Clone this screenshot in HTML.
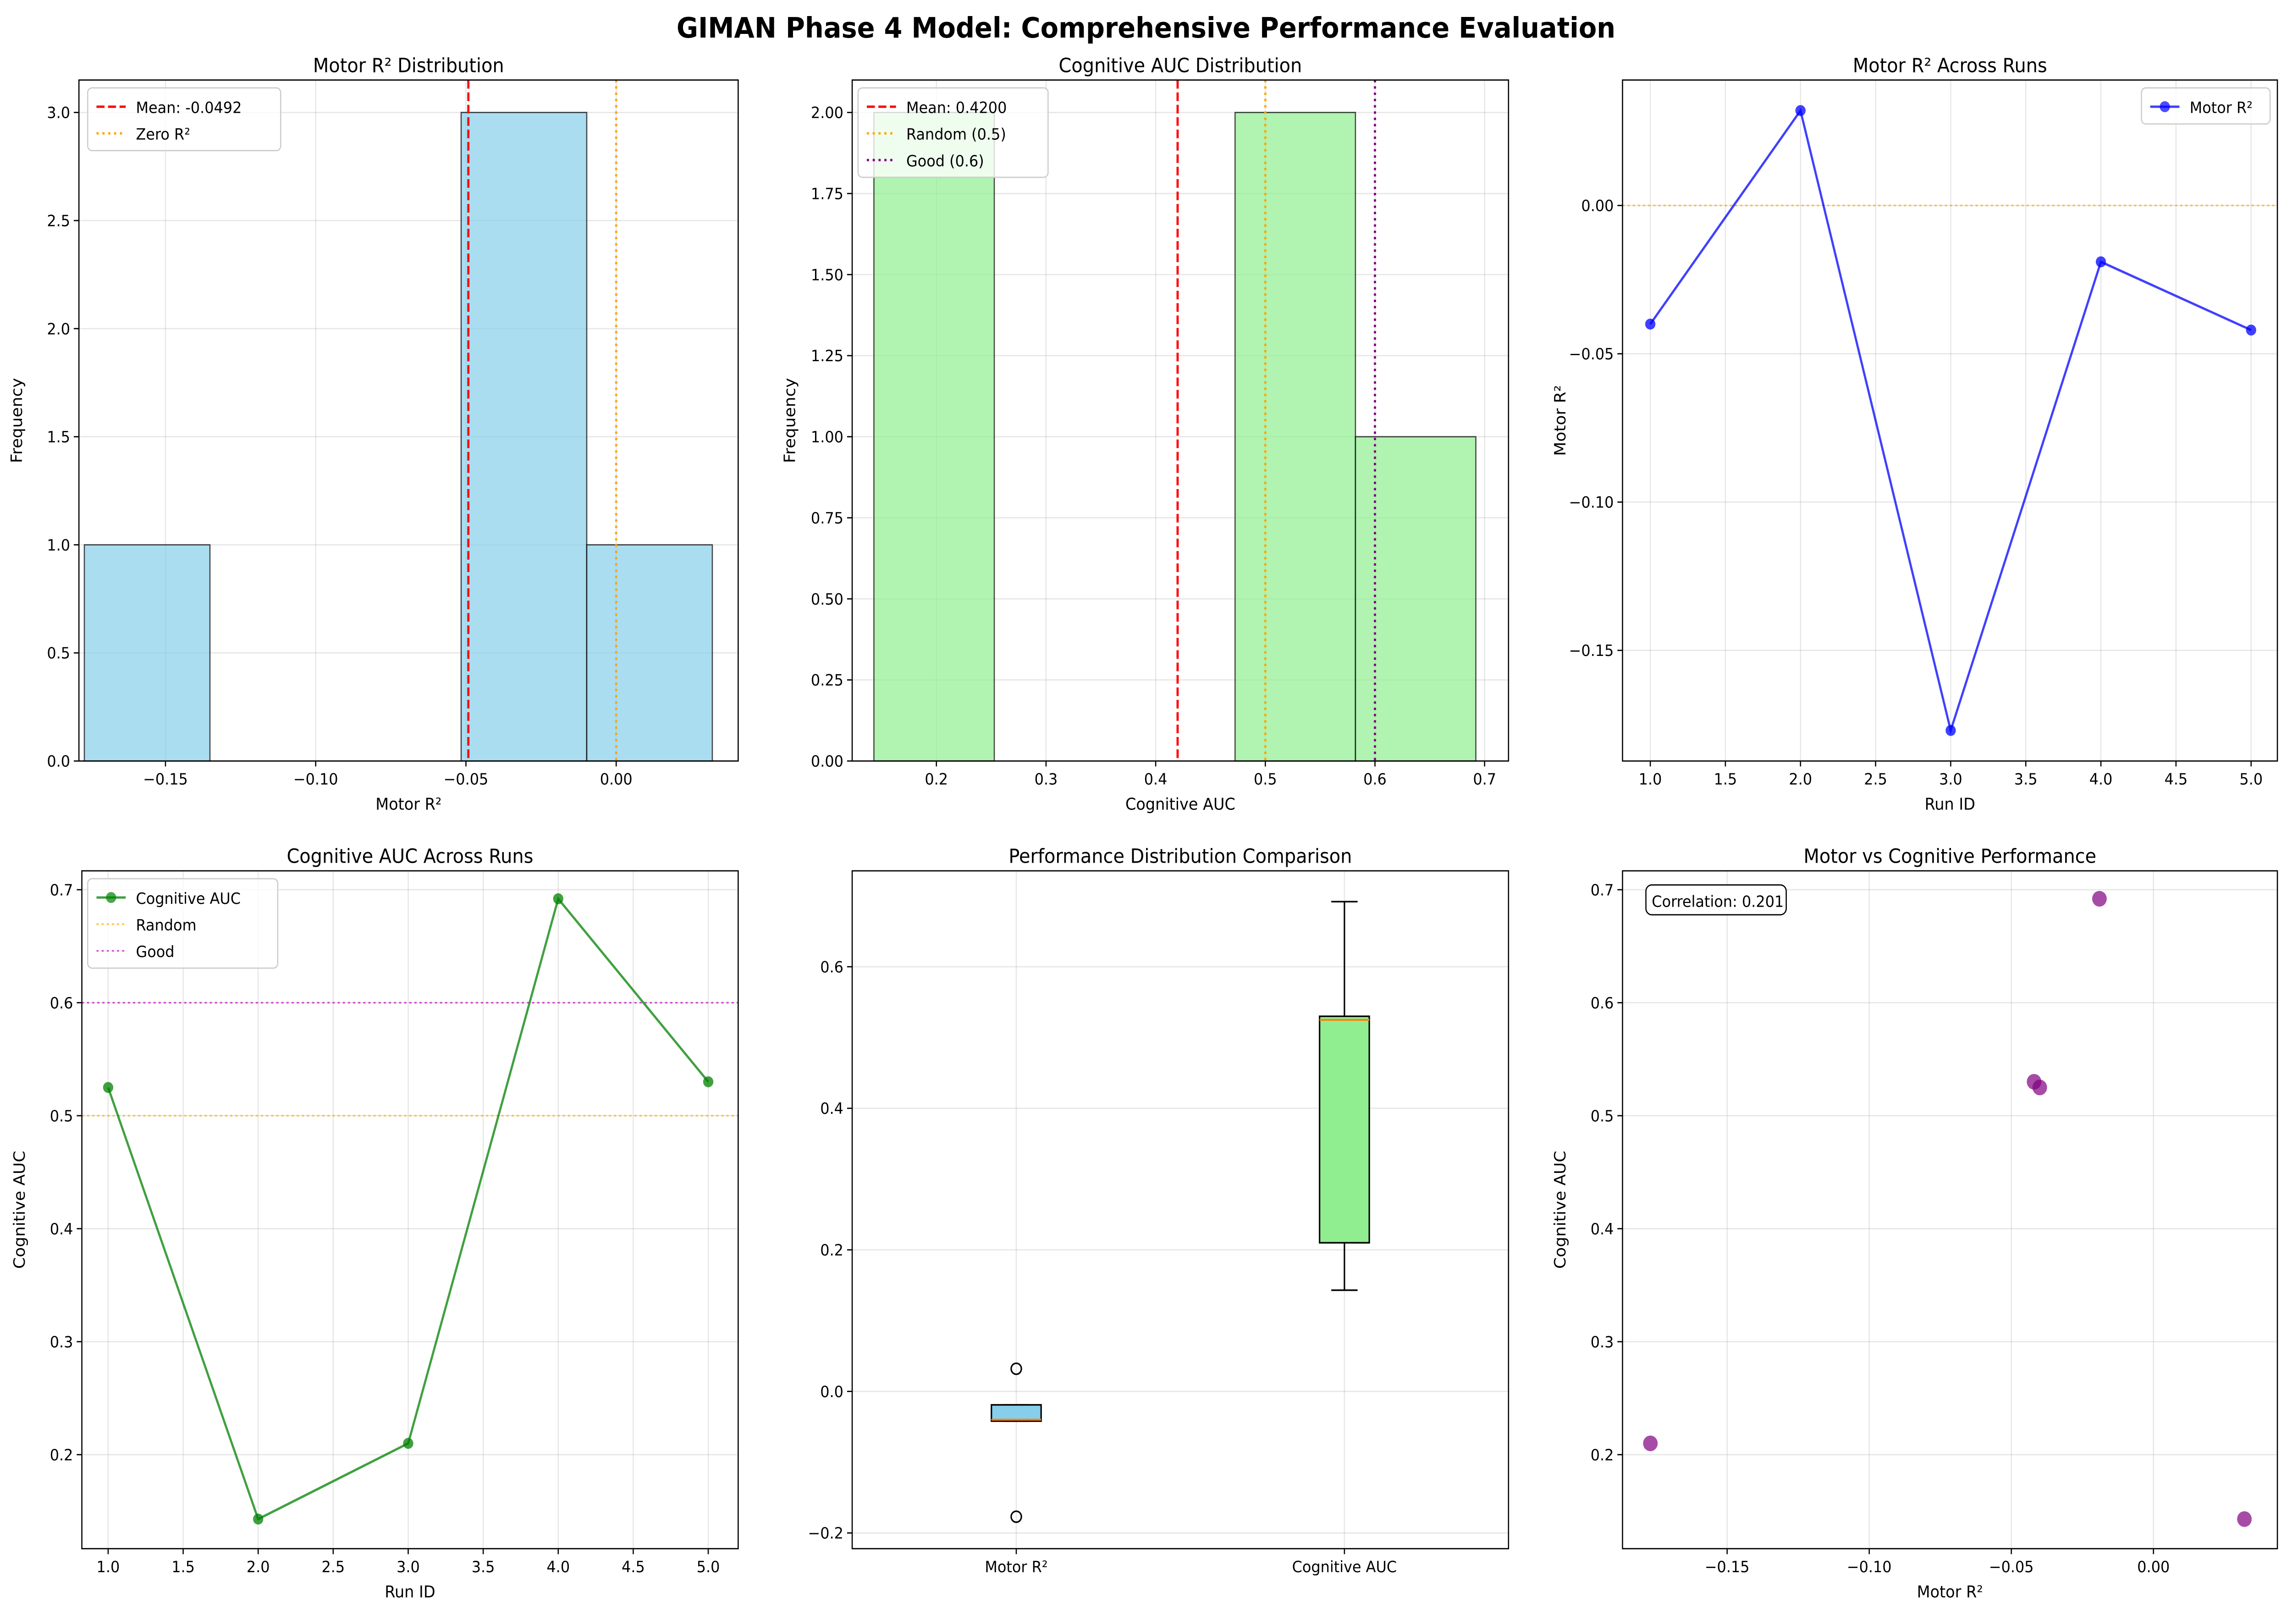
<!DOCTYPE html>
<html><head><meta charset="utf-8"><style>
html,body{margin:0;padding:0;background:#fff;overflow:hidden;width:100%;height:100%}
svg{display:block;position:fixed;left:0;top:0;width:100vw;height:100vh;font-family:"DejaVu Sans","Liberation Sans",sans-serif}
</style></head><body>
<svg id="fig" viewBox="0 0 1568 1035" preserveAspectRatio="none" xmlns="http://www.w3.org/2000/svg">
<rect width="1568" height="1035" fill="#fff"/>
<text x="784" y="24" text-anchor="middle" font-size="18" font-weight="bold">GIMAN Phase 4 Model: Comprehensive Performance Evaluation</text>
<g id="root"></g>
</svg>
<script>
const runIds = [1, 2, 3, 4, 5];
const motorR2 = [-0.040, 0.032, -0.177, -0.019, -0.042];
const cogAUC = [0.525, 0.143, 0.210, 0.692, 0.530];
const correlationLabel = "Correlation: 0.201";

const NS = "http://www.w3.org/2000/svg";
const root = document.getElementById("root");
function el(tag, attrs, parent, text) {
  const e = document.createElementNS(NS, tag);
  for (const k in attrs) e.setAttribute(k, attrs[k]);
  if (text !== undefined) e.textContent = text;
  (parent || root).appendChild(e);
  return e;
}
function lin(d0, d1, r0, r1) { return v => r0 + (v - d0) * (r1 - r0) / (d1 - d0); }
function mean(a) { return a.reduce((s, v) => s + v, 0) / a.length; }
function fmt(v, dp) { return v.toFixed(dp).replace("-", "−"); }

function axes(name, L, R, T, B, xd, yd, xt, yt, xdp, ydp, title, xl, yl) {
  const g = el("g", {});
  
  
  const X = lin(xd[0], xd[1], L, R), Y = lin(yd[0], yd[1], B, T);
  const grid = el("g", {}, g);
  xt.forEach(v => { if (X(v) >= L - 0.1 && X(v) <= R + 0.1) el("line", {x1: X(v), x2: X(v), y1: T, y2: B, stroke: "#b0b0b0", "stroke-opacity": 0.3, "stroke-width": 0.8}, grid); });
  yt.forEach(v => { if (Y(v) >= T - 0.1 && Y(v) <= B + 0.1) el("line", {x1: L, x2: R, y1: Y(v), y2: Y(v), stroke: "#b0b0b0", "stroke-opacity": 0.3, "stroke-width": 0.8}, grid); });
  const plot = el("g", {}, g);
  const ax = el("g", {}, g);
  xt.forEach(v => {
    const x = X(v); if (x < L - 0.1 || x > R + 0.1) return;
    el("line", {x1: x, x2: x, y1: B, y2: B + 3.5, stroke: "#000", "stroke-width": 0.8}, ax);
    const t = el("text", {x: x, y: B + 15, "text-anchor": "middle", "font-size": 10}, ax, typeof v === "string" ? v : fmt(v, xdp));
    
    
  });
  yt.forEach(v => {
    const y = Y(v); if (y < T - 0.1 || y > B + 0.1) return;
    el("line", {x1: L - 3.5, x2: L, y1: y, y2: y, stroke: "#000", "stroke-width": 0.8}, ax);
    const t = el("text", {x: L - 6, y: y + 3.6, "text-anchor": "end", "font-size": 10}, ax, fmt(v, ydp));
    
    
  });
  el("rect", {x: L, y: T, width: R - L, height: B - T, fill: "none", stroke: "#000", "stroke-width": 0.8}, ax);
  const tt = el("text", {x: (L + R) / 2, y: T - 5, "text-anchor": "middle", "font-size": 12.5}, ax, title);
  
  
  const xlab = el("text", {x: (L + R) / 2, y: B + 31, "text-anchor": "middle", "font-size": 10.5}, ax, xl);
  
  
  const ylab = el("text", {x: 0, y: 0, "text-anchor": "middle", "font-size": 10.5, transform: `translate(${L - 39},${(T + B) / 2}) rotate(-90)`}, ax, yl);
  
  
  return {X, Y, plot, g};
}
function legend(g, x, y, w, items) {
  const lg = el("g", {}, g);
  
  
  el("rect", {x: x, y: y, width: w, height: items.length * 17 + 6, rx: 3, fill: "#fff", "fill-opacity": 0.8, stroke: "#ccc", "stroke-width": 0.8}, lg);
  items.forEach((it, i) => {
    const cy = y + 12 + i * 17;
    const e = el("g", {}, lg);
    
    
    el("line", {x1: x + 6, x2: x + 26, y1: cy, y2: cy, stroke: it.c, "stroke-width": it.w || 1.5, "stroke-dasharray": it.d || "none", opacity: it.o || 1}, e);
    if (it.m) el("circle", {cx: x + 16, cy: cy, r: 3.5, fill: it.c, opacity: 0.7}, e);
    el("text", {x: x + 33, y: cy + 4, "font-size": 10}, e, it.t);
  });
}
function hist(p, data, nb, color) {
  const mn = Math.min(...data), mx = Math.max(...data), w = (mx - mn) / nb;
  const counts = new Array(nb).fill(0);
  data.forEach(v => { let i = Math.floor((v - mn) / w); if (i >= nb) i = nb - 1; counts[i]++; });
  counts.forEach((c, i) => {
    if (!c) return;
    const r = el("rect", {x: p.X(mn + i * w), y: p.Y(c), width: p.X(mn + (i + 1) * w) - p.X(mn + i * w), height: p.Y(0) - p.Y(c), fill: color, "fill-opacity": 0.7, stroke: "#000", "stroke-opacity": 0.7, "stroke-width": 0.8}, p.plot);
    
    
  });
}
function vline(p, v, T, B, c, d) {
  const l = el("line", {x1: p.X(v), x2: p.X(v), y1: T, y2: B, stroke: c, "stroke-width": 1.5, "stroke-dasharray": d}, p.plot);
  
  
}
function hline(p, v, L, R, c) {
  const l = el("line", {x1: L, x2: R, y1: p.Y(v), y2: p.Y(v), stroke: c, "stroke-width": 1, "stroke-dasharray": "1.5,2", opacity: 0.7}, p.plot);
  
  
}
function series(p, xs, ys, c) {
  const pl = el("polyline", {points: xs.map((x, i) => p.X(x) + "," + p.Y(ys[i])).join(" "), fill: "none", stroke: c, "stroke-width": 1.5, opacity: 0.75}, p.plot);
  
  
  xs.forEach((x, i) => {
    const m = el("circle", {cx: p.X(x), cy: p.Y(ys[i]), r: 3.5, fill: c, opacity: 0.75}, p.plot);
    
    
  });
}
const runTicks = [1, 1.5, 2, 2.5, 3, 3.5, 4, 4.5, 5];

// Panel 1
let p = axes("motor-r2-histogram", 54, 505, 51, 485, [-0.1788, 0.0406], [0, 3.15], [-0.15, -0.1, -0.05, 0], [0, 0.5, 1, 1.5, 2, 2.5, 3], 2, 1, "Motor R² Distribution", "Motor R²", "Frequency");
hist(p, motorR2, 5, "skyblue");
vline(p, mean(motorR2), 51, 485, "red", "5.5,2.4");
vline(p, 0, 51, 485, "orange", "1.5,2.5");
legend(p.g, 60, 56, 132, [{c: "red", d: "5.5,2.4", t: "Mean: " + mean(motorR2).toFixed(4)}, {c: "orange", d: "1.5,2.5", t: "Zero R²"}]);

// Panel 2
p = axes("cognitive-auc-histogram", 583, 1032, 51, 485, [0.1232, 0.7218], [0, 2.1], [0.2, 0.3, 0.4, 0.5, 0.6, 0.7], [0, 0.25, 0.5, 0.75, 1, 1.25, 1.5, 1.75, 2], 1, 2, "Cognitive AUC Distribution", "Cognitive AUC", "Frequency");
hist(p, cogAUC, 5, "lightgreen");
vline(p, mean(cogAUC), 51, 485, "red", "5.5,2.4");
vline(p, 0.5, 51, 485, "orange", "1.5,2.5");
vline(p, 0.6, 51, 485, "purple", "1.5,2.5");
legend(p.g, 587, 56, 130, [{c: "red", d: "5.5,2.4", t: "Mean: " + mean(cogAUC).toFixed(4)}, {c: "orange", d: "1.5,2.5", t: "Random (0.5)"}, {c: "purple", d: "1.5,2.5", t: "Good (0.6)"}]);

// Panel 3
p = axes("motor-r2-across-runs", 1110, 1558, 51, 485, [0.8151, 5.175], [-0.1873, 0.0423], runTicks, [-0.15, -0.1, -0.05, 0], 1, 2, "Motor R² Across Runs", "Run ID", "Motor R²");
hline(p, 0, 1110, 1558, "orange");
series(p, runIds, motorR2, "blue");
legend(p.g, 1465, 56, 88, [{c: "blue", t: "Motor R²", m: true, o: 0.75}]);

// Panel 4
p = axes("cognitive-auc-across-runs", 56, 505, 555, 987, [0.8248, 5.1995], [0.1168, 0.7167], runTicks, [0.2, 0.3, 0.4, 0.5, 0.6, 0.7], 1, 1, "Cognitive AUC Across Runs", "Run ID", "Cognitive AUC");
hline(p, 0.5, 56, 505, "orange");
hline(p, 0.6, 56, 505, "#bf00bf");
series(p, runIds, cogAUC, "green");
legend(p.g, 60, 560, 130, [{c: "green", t: "Cognitive AUC", m: true, o: 0.75}, {c: "orange", d: "1.5,2", t: "Random", w: 1, o: 0.7}, {c: "#bf00bf", d: "1.5,2", t: "Good", w: 1, o: 0.7}]);

// Panel 5
p = axes("performance-boxplot", 583, 1032, 555, 987, [0.5, 2.5], [-0.2222, 0.7355], [], [-0.2, 0, 0.2, 0.4, 0.6], 0, 1, "Performance Distribution Comparison", "", "");
function quant(a, q) { const s = [...a].sort((x, y) => x - y); const pos = (s.length - 1) * q, lo = Math.floor(pos), hi = Math.ceil(pos); return s[lo] + (s[hi] - s[lo]) * (pos - lo); }
[[motorR2, "skyblue", 1, "Motor R²"], [cogAUC, "lightgreen", 2, "Cognitive AUC"]].forEach(([d, c, pos, lab]) => {
  const bx = el("g", {}, p.plot);
  
  
  const q1 = quant(d, 0.25), q2 = quant(d, 0.5), q3 = quant(d, 0.75), iqr = q3 - q1;
  const inl = d.filter(v => v >= q1 - 1.5 * iqr && v <= q3 + 1.5 * iqr);
  const lo = Math.min(...inl), hi = Math.max(...inl);
  const cx = p.X(pos), hw = 17;
  el("line", {x1: cx, x2: cx, y1: p.Y(hi), y2: p.Y(q3), stroke: "#000"}, bx);
  el("line", {x1: cx, x2: cx, y1: p.Y(q1), y2: p.Y(lo), stroke: "#000"}, bx);
  el("line", {x1: cx - 9, x2: cx + 9, y1: p.Y(hi), y2: p.Y(hi), stroke: "#000"}, bx);
  el("line", {x1: cx - 9, x2: cx + 9, y1: p.Y(lo), y2: p.Y(lo), stroke: "#000"}, bx);
  el("rect", {x: cx - hw, y: p.Y(q3), width: 2 * hw, height: p.Y(q1) - p.Y(q3), fill: c, stroke: "#000"}, bx);
  el("line", {x1: cx - hw, x2: cx + hw, y1: p.Y(q2), y2: p.Y(q2), stroke: "#ff7f0e", "stroke-width": 1.2}, bx);
  d.filter(v => v < lo || v > hi).forEach(v => el("circle", {cx: cx, cy: p.Y(v), r: 3.5, fill: "none", stroke: "#000"}, bx));
  el("line", {x1: cx, x2: cx, y1: 987, y2: 990.5, stroke: "#000", "stroke-width": 0.8}, p.g);
  const t = el("text", {x: cx, y: 1002, "text-anchor": "middle", "font-size": 10}, p.g, lab);
  
  
  el("line", {x1: cx, x2: cx, y1: 555, y2: 987, stroke: "#b0b0b0", "stroke-opacity": 0.3, "stroke-width": 0.8}, p.g.firstChild);
});

// Panel 6
p = axes("motor-vs-cognitive-scatter", 1110, 1558, 555, 987, [-0.1868, 0.0436], [0.1168, 0.7167], [-0.15, -0.1, -0.05, 0], [0.2, 0.3, 0.4, 0.5, 0.6, 0.7], 2, 1, "Motor vs Cognitive Performance", "Motor R²", "Cognitive AUC");
motorR2.forEach((m, i) => {
  const c = el("circle", {cx: p.X(m), cy: p.Y(cogAUC[i]), r: 5, fill: "purple", "fill-opacity": 0.7}, p.plot);
  
  
});
const cb = el("g", {}, p.g);


el("rect", {x: 1126, y: 564, width: 96, height: 19, rx: 4, fill: "#fff", stroke: "#000", "stroke-width": 0.8}, cb);
el("text", {x: 1130, y: 578, "font-size": 10}, cb, correlationLabel);
</script>
</body></html>
